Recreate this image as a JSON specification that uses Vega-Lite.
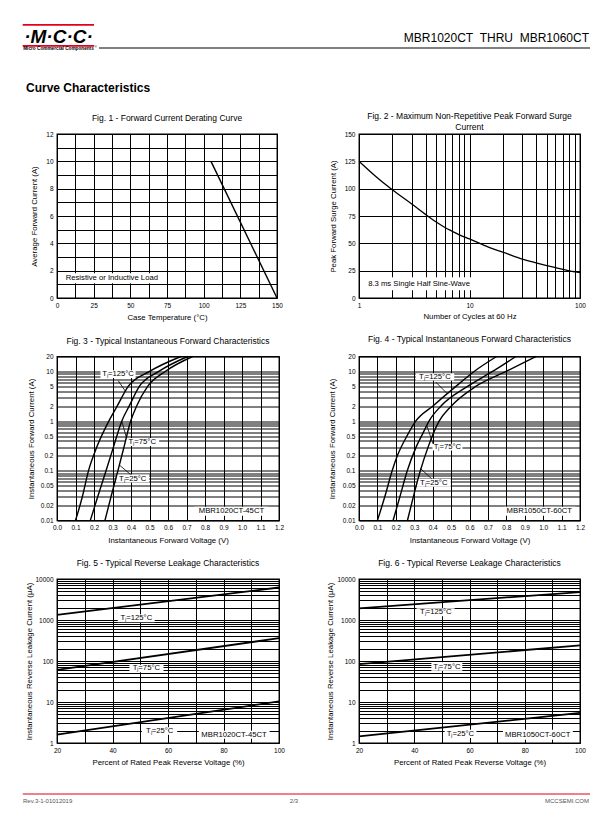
{
"$schema": "https://vega.github.io/schema/vega-lite/v6.json",
"autosize": {"type": "none"},
"padding": {"left": 57, "top": 35.5, "right": 555, "bottom": 789.5},
"background": "white",
"columns": 2,
"spacing": {"row": 58.5, "column": 80},
"bounds": "flush",
"align": "each",
"config": {
  "view": {"stroke": null},
  "font": "Liberation Sans",
  "title": {"font": "Liberation Sans", "fontSize": 8.5, "fontWeight": "normal", "color": "#000", "frame": "group", "anchor": "middle"},
  "axis": {"grid": true, "gridColor": "#000", "gridOpacity": 1, "gridWidth": 1, "domain": false, "ticks": false, "labelFont": "Liberation Sans", "labelFontSize": 6.5, "labelColor": "#000", "labelPadding": 4, "labelOverlap": false, "labelFlush": false, "labelBound": false, "titleFont": "Liberation Sans", "titleFontSize": 7.8, "titleFontWeight": "normal", "titleColor": "#000"},
  "text": {"font": "Liberation Sans", "color": "#000"},
  "line": {"color": "#000"},
  "rule": {"color": "#000"}
},
"concat": [
  {
    "width": 222, "height": 40,
    "layer": [
      {"data": {"values": [{"part": "top bar"}]}, "mark": {"type": "rect", "color": "#e2001a"}, "encoding": {"x": {"value": -34.3}, "x2": {"value": 37}, "y": {"value": -11.5}, "y2": {"value": -9.7}}},
      {"data": {"values": [{"part": "bottom bar"}]}, "mark": {"type": "rect", "color": "#e2001a"}, "encoding": {"x": {"value": -34.3}, "x2": {"value": 37}, "y": {"value": 9.5}, "y2": {"value": 11.3}}},
      {"data": {"values": [{"t": "·M·C·C·"}]}, "mark": {"type": "text", "fontSize": 19, "fontWeight": "bold", "fontStyle": "italic", "align": "center", "baseline": "middle"}, "encoding": {"x": {"value": 1.5}, "y": {"value": 1.5}, "text": {"field": "t"}}},
      {"data": {"values": [{"t": "Micro Commercial Components"}]}, "mark": {"type": "text", "fontSize": 4.7, "fontWeight": "bold", "align": "center", "baseline": "middle"}, "encoding": {"x": {"value": 1.5}, "y": {"value": 13.9}, "text": {"field": "t"}}},
      {"data": {"values": [{"t": "®"}]}, "mark": {"type": "text", "fontSize": 3.5, "align": "center", "baseline": "middle"}, "encoding": {"x": {"value": 38.5}, "y": {"value": 11.8}, "text": {"field": "t"}}},
      {"data": {"values": [{"part": "header line"}]}, "mark": {"type": "rule", "color": "#000", "strokeWidth": 1}, "encoding": {"x": {"value": 42}, "x2": {"value": 533}, "y": {"value": 12.5}}},
      {"data": {"values": [{"t": "MBR1020CT\u00a0 THRU\u00a0 MBR1060CT"}]}, "mark": {"type": "text", "fontSize": 12, "align": "right", "baseline": "alphabetic"}, "encoding": {"x": {"value": 532}, "y": {"value": 6.8}, "text": {"field": "t"}}},
      {"data": {"values": [{"t": "Curve Characteristics"}]}, "mark": {"type": "text", "fontSize": 12, "fontWeight": "bold", "align": "left", "baseline": "alphabetic"}, "encoding": {"x": {"value": -31}, "y": {"value": 56.2}, "text": {"field": "t"}}}
    ]
  },
  {
    "width": 221, "height": 40,
    "data": {"values": [{"t": ""}]},
    "mark": {"type": "text"},
    "encoding": {"text": {"field": "t"}}
  },
  {
    "width": 220, "height": 164,
    "view": {"stroke": "#000", "strokeWidth": 1.3},
    "title": {"text": "Fig. 1 - Forward Current Derating Curve", "offset": 9},
    "encoding": {
      "x": {"field": "x", "type": "quantitative", "scale": {"domain": [0, 150], "nice": false, "zero": false},
            "axis": {"title": "Case Temperature (°C)", "values": [0,12.5,25,37.5,50,62.5,75,87.5,100,112.5,125,137.5,150], "labelExpr": "datum.value % 25 == 0 ? datum.label : ''", "titlePadding": 5}},
      "y": {"field": "y", "type": "quantitative", "scale": {"domain": [0, 12], "nice": false, "zero": false},
            "axis": {"title": "Average Forward Current (A)", "values": [0,1,2,3,4,5,6,7,8,9,10,11,12], "labelExpr": "datum.value % 2 == 0 ? datum.label : ''", "titlePadding": 7}}
    },
    "layer": [
      {"data": {"values": [{"x": 3.4, "x2": 71, "y": 1.08, "y2": 1.81}]}, "mark": {"type": "rect", "color": "#fff"}, "encoding": {"x2": {"field": "x2"}, "y2": {"field": "y2"}}},
      {"data": {"values": [{"x": 105, "y": 10}, {"x": 150, "y": 0}]}, "mark": {"type": "line", "color": "#000", "strokeWidth": 1.4}, "encoding": {}},
      {"data": {"values": [{"x": 5.9, "y": 1.45, "t": "Resistive or Inductive Load"}]}, "mark": {"type": "text", "align": "left", "baseline": "middle", "fontSize": 7.7}, "encoding": {"text": {"field": "t"}}}
    ]
  },
  {
    "width": 221, "height": 164,
    "view": {"stroke": "#000", "strokeWidth": 1.3},
    "title": {"text": ["Fig. 2 - Maximum Non-Repetitive Peak Forward Surge", "Current"], "lineHeight": 11, "offset": 0},
    "encoding": {
      "x": {"field": "x", "type": "quantitative", "scale": {"type": "log", "domain": [1, 100], "nice": false},
            "axis": {"title": "Number of Cycles at 60 Hz", "values": [1,2,3,4,5,6,7,8,9,10,20,30,40,50,60,70,80,90,100], "labelExpr": "indexof([1,10,100], datum.value) >= 0 ? format(datum.value, '~g') : ''", "titlePadding": 4}},
      "y": {"field": "y", "type": "quantitative", "scale": {"domain": [0, 150], "nice": false, "zero": false},
            "axis": {"title": "Peak Forward Surge Current (A)", "values": [0,25,50,75,100,125,150], "titlePadding": 6.5}}
    },
    "layer": [
      {"data": {"values": [{"x": 1.12, "x2": 11.5, "y": 7, "y2": 19}]}, "mark": {"type": "rect", "color": "#fff"}, "encoding": {"x2": {"field": "x2"}, "y2": {"field": "y2"}}},
      {"data": {"values": [
        {"x": 1, "y": 125}, {"x": 1.5, "y": 109}, {"x": 2, "y": 99}, {"x": 3, "y": 86}, {"x": 4, "y": 76.5},
        {"x": 5, "y": 69.5}, {"x": 6, "y": 64.5}, {"x": 7, "y": 61}, {"x": 8, "y": 58}, {"x": 10, "y": 54},
        {"x": 15, "y": 46.3}, {"x": 20, "y": 42}, {"x": 30, "y": 35.6}, {"x": 40, "y": 32.2}, {"x": 50, "y": 29.7},
        {"x": 60, "y": 27.8}, {"x": 70, "y": 26.2}, {"x": 80, "y": 24.9}, {"x": 90, "y": 24}, {"x": 100, "y": 23.3}
      ]}, "mark": {"type": "line", "color": "#000", "strokeWidth": 1.3, "interpolate": "monotone"}, "encoding": {}},
      {"data": {"values": [{"x": 1.21, "y": 13, "t": "8.3 ms Single Half Sine-Wave"}]}, "mark": {"type": "text", "align": "left", "baseline": "middle", "fontSize": 7.7}, "encoding": {"text": {"field": "t"}}}
    ]
  },
  {
    "width": 222, "height": 164,
    "view": {"stroke": "#000", "strokeWidth": 1.3},
    "title": {"text": "Fig. 3 - Typical Instantaneous Forward Characteristics", "offset": 8.5},
    "encoding": {
      "x": {"field": "x", "type": "quantitative", "scale": {"domain": [0, 1.2], "nice": false, "zero": false},
            "axis": {"title": "Instantaneous Forward Voltage (V)", "values": [0,0.1,0.2,0.3,0.4,0.5,0.6,0.7,0.8,0.9,1,1.1,1.2], "format": ".1f", "titlePadding": 5}},
      "y": {"field": "y", "type": "quantitative", "scale": {"type": "log", "domain": [0.01, 20], "nice": false},
            "axis": {"title": "Instantaneous Forward Current (A)", "values": [0.01,0.02,0.03,0.04,0.05,0.06,0.07,0.08,0.09,0.1,0.2,0.3,0.4,0.5,0.6,0.7,0.8,0.9,1,2,3,4,5,6,7,8,9,10,20], "labelExpr": "indexof([0.01,0.02,0.05,0.1,0.2,0.5,1,2,5,10,20], datum.value) >= 0 ? format(datum.value, '~g') : ''", "titlePadding": 5}}
    },
    "layer": [
      {"data": {"values": [
        {"x": 0.235, "x2": 0.425, "y": 7.35, "y2": 10.6},
        {"x": 0.371, "x2": 0.552, "y": 0.316, "y2": 0.458},
        {"x": 0.32, "x2": 0.498, "y": 0.058, "y2": 0.084},
        {"x": 0.742, "x2": 1.14, "y": 0.0125, "y2": 0.019}
      ]}, "mark": {"type": "rect", "color": "#fff"}, "encoding": {"x2": {"field": "x2"}, "y2": {"field": "y2"}}},
      {"data": {"values": [
        {"x": 0.331, "y": 6.5, "x2": 0.37, "y2": 4.0},
        {"x": 0.376, "y": 0.458, "x2": 0.35, "y2": 1.0},
        {"x": 0.337, "y": 0.131, "x2": 0.398, "y2": 0.084}
      ]}, "mark": {"type": "rule", "color": "#000", "strokeWidth": 0.8}, "encoding": {"x2": {"field": "x2"}, "y2": {"field": "y2"}}},
      {"data": {"values": [
        {"s": "125", "x": 0.10, "y": 0.01}, {"s": "125", "x": 0.137, "y": 0.03}, {"s": "125", "x": 0.17, "y": 0.1}, {"s": "125", "x": 0.215, "y": 0.3}, {"s": "125", "x": 0.28, "y": 1}, {"s": "125", "x": 0.325, "y": 2}, {"s": "125", "x": 0.385, "y": 5}, {"s": "125", "x": 0.50, "y": 10}, {"s": "125", "x": 0.67, "y": 20},
        {"s": "75", "x": 0.18, "y": 0.01}, {"s": "75", "x": 0.22, "y": 0.03}, {"s": "75", "x": 0.265, "y": 0.1}, {"s": "75", "x": 0.305, "y": 0.3}, {"s": "75", "x": 0.35, "y": 1}, {"s": "75", "x": 0.39, "y": 2}, {"s": "75", "x": 0.445, "y": 5}, {"s": "75", "x": 0.55, "y": 10}, {"s": "75", "x": 0.706, "y": 20},
        {"s": "25", "x": 0.259, "y": 0.01}, {"s": "25", "x": 0.292, "y": 0.03}, {"s": "25", "x": 0.329, "y": 0.1}, {"s": "25", "x": 0.362, "y": 0.3}, {"s": "25", "x": 0.398, "y": 1}, {"s": "25", "x": 0.43, "y": 2}, {"s": "25", "x": 0.49, "y": 5}, {"s": "25", "x": 0.585, "y": 10}, {"s": "25", "x": 0.733, "y": 20}
      ]}, "mark": {"type": "line", "color": "#000", "strokeWidth": 1.4, "interpolate": "monotone"}, "encoding": {"detail": {"field": "s"}}},
      {"data": {"values": [
        {"x": 0.33, "y": 8.8, "t": "Tⱼ=125°C"},
        {"x": 0.461, "y": 0.38, "t": "Tⱼ=75°C"},
        {"x": 0.409, "y": 0.07, "t": "Tⱼ=25°C"},
        {"x": 0.943, "y": 0.0155, "t": "MBR1020CT-45CT"}
      ]}, "mark": {"type": "text", "align": "center", "baseline": "middle", "fontSize": 7.7}, "encoding": {"text": {"field": "t"}}}
    ]
  },
  {
    "width": 221, "height": 164,
    "view": {"stroke": "#000", "strokeWidth": 1.3},
    "title": {"text": "Fig. 4 - Typical Instantaneous Forward Characteristics", "offset": 10},
    "encoding": {
      "x": {"field": "x", "type": "quantitative", "scale": {"domain": [0, 1.2], "nice": false, "zero": false},
            "axis": {"title": "Instantaneous Forward Voltage (V)", "values": [0,0.1,0.2,0.3,0.4,0.5,0.6,0.7,0.8,0.9,1,1.1,1.2], "format": ".1f", "titlePadding": 5}},
      "y": {"field": "y", "type": "quantitative", "scale": {"type": "log", "domain": [0.01, 20], "nice": false},
            "axis": {"title": "Instantaneous Forward Current (A)", "values": [0.01,0.02,0.03,0.04,0.05,0.06,0.07,0.08,0.09,0.1,0.2,0.3,0.4,0.5,0.6,0.7,0.8,0.9,1,2,3,4,5,6,7,8,9,10,20], "labelExpr": "indexof([0.01,0.02,0.05,0.1,0.2,0.5,1,2,5,10,20], datum.value) >= 0 ? format(datum.value, '~g') : ''", "titlePadding": 6}}
    },
    "layer": [
      {"data": {"values": [
        {"x": 0.308, "x2": 0.517, "y": 6.57, "y2": 9.25},
        {"x": 0.399, "x2": 0.562, "y": 0.256, "y2": 0.349},
        {"x": 0.314, "x2": 0.498, "y": 0.048, "y2": 0.069},
        {"x": 0.785, "x2": 1.175, "y": 0.0125, "y2": 0.019}
      ]}, "mark": {"type": "rect", "color": "#fff"}, "encoding": {"x2": {"field": "x2"}, "y2": {"field": "y2"}}},
      {"data": {"values": [
        {"x": 0.417, "y": 6.1, "x2": 0.48, "y2": 3.55},
        {"x": 0.402, "y": 0.349, "x2": 0.368, "y2": 0.82},
        {"x": 0.335, "y": 0.11, "x2": 0.395, "y2": 0.069}
      ]}, "mark": {"type": "rule", "color": "#000", "strokeWidth": 0.8}, "encoding": {"x2": {"field": "x2"}, "y2": {"field": "y2"}}},
      {"data": {"values": [
        {"s": "125", "x": 0.10, "y": 0.01}, {"s": "125", "x": 0.14, "y": 0.03}, {"s": "125", "x": 0.18, "y": 0.1}, {"s": "125", "x": 0.208, "y": 0.2}, {"s": "125", "x": 0.26, "y": 0.5}, {"s": "125", "x": 0.308, "y": 1}, {"s": "125", "x": 0.40, "y": 2}, {"s": "125", "x": 0.526, "y": 5}, {"s": "125", "x": 0.625, "y": 10}, {"s": "125", "x": 0.747, "y": 20},
        {"s": "75", "x": 0.185, "y": 0.01}, {"s": "75", "x": 0.222, "y": 0.03}, {"s": "75", "x": 0.262, "y": 0.1}, {"s": "75", "x": 0.31, "y": 0.3}, {"s": "75", "x": 0.35, "y": 0.6}, {"s": "75", "x": 0.38, "y": 1}, {"s": "75", "x": 0.444, "y": 2}, {"s": "75", "x": 0.589, "y": 5}, {"s": "75", "x": 0.725, "y": 10}, {"s": "75", "x": 0.852, "y": 20},
        {"s": "25", "x": 0.263, "y": 0.01}, {"s": "25", "x": 0.295, "y": 0.03}, {"s": "25", "x": 0.333, "y": 0.1}, {"s": "25", "x": 0.375, "y": 0.3}, {"s": "25", "x": 0.435, "y": 1}, {"s": "25", "x": 0.50, "y": 2}, {"s": "25", "x": 0.634, "y": 5}, {"s": "25", "x": 0.798, "y": 10}, {"s": "25", "x": 0.961, "y": 20}
      ]}, "mark": {"type": "line", "color": "#000", "strokeWidth": 1.4, "interpolate": "monotone"}, "encoding": {"detail": {"field": "s"}}},
      {"data": {"values": [
        {"x": 0.412, "y": 7.8, "t": "Tⱼ=125°C"},
        {"x": 0.48, "y": 0.3, "t": "Tⱼ=75°C"},
        {"x": 0.406, "y": 0.058, "t": "Tⱼ=25°C"},
        {"x": 0.979, "y": 0.0152, "t": "MBR1050CT-60CT"}
      ]}, "mark": {"type": "text", "align": "center", "baseline": "middle", "fontSize": 7.7}, "encoding": {"text": {"field": "t"}}}
    ]
  },
  {
    "width": 222, "height": 164,
    "view": {"stroke": "#000", "strokeWidth": 1.3},
    "title": {"text": "Fig. 5 - Typical Reverse Leakage Characteristics", "offset": 9},
    "encoding": {
      "x": {"field": "x", "type": "quantitative", "scale": {"domain": [20, 100], "nice": false, "zero": false},
            "axis": {"title": "Percent of Rated Peak Reverse Voltage (%)", "values": [20,30,40,50,60,70,80,90,100], "labelExpr": "datum.value % 20 == 0 ? datum.label : ''", "titlePadding": 5}},
      "y": {"field": "y", "type": "quantitative", "scale": {"type": "log", "domain": [1, 10000], "nice": false},
            "axis": {"title": "Instantaneous Reverse Leakage Current (µA)", "values": [1,2,3,4,5,6,7,8,9,10,20,30,40,50,60,70,80,90,100,200,300,400,500,600,700,800,900,1000,2000,3000,4000,5000,6000,7000,8000,9000,10000], "labelExpr": "indexof([1,10,100,1000,10000], datum.value) >= 0 ? format(datum.value, 'd') : ''", "titlePadding": 1}}
    },
    "layer": [
      {"data": {"values": [
        {"x": 41.9, "x2": 55.2, "y": 881, "y2": 1380},
        {"x": 46.1, "x2": 58.4, "y": 53.5, "y2": 80.7},
        {"x": 50.6, "x2": 63.3, "y": 1.6, "y2": 2.41},
        {"x": 71.1, "x2": 96.6, "y": 1.27, "y2": 2.0}
      ]}, "mark": {"type": "rect", "color": "#fff"}, "encoding": {"x2": {"field": "x2"}, "y2": {"field": "y2"}}},
      {"data": {"values": [
        {"s": "125", "x": 20, "y": 1330}, {"s": "125", "x": 100, "y": 6200},
        {"s": "75", "x": 20, "y": 61}, {"s": "75", "x": 100, "y": 360},
        {"s": "25", "x": 20, "y": 1.6}, {"s": "25", "x": 100, "y": 10.3}
      ]}, "mark": {"type": "line", "color": "#000", "strokeWidth": 1.8}, "encoding": {"detail": {"field": "s"}}},
      {"data": {"values": [
        {"x": 48.6, "y": 1104, "t": "Tⱼ=125°C"},
        {"x": 52.2, "y": 65.7, "t": "Tⱼ=75°C"},
        {"x": 57, "y": 1.96, "t": "Tⱼ=25°C"},
        {"x": 83.8, "y": 1.6, "t": "MBR1020CT-45CT"}
      ]}, "mark": {"type": "text", "align": "center", "baseline": "middle", "fontSize": 7.7}, "encoding": {"text": {"field": "t"}}}
    ]
  },
  {
    "width": 221, "height": 164,
    "view": {"stroke": "#000", "strokeWidth": 1.3},
    "title": {"text": "Fig. 6 - Typical Reverse Leakage Characteristics", "offset": 9},
    "encoding": {
      "x": {"field": "x", "type": "quantitative", "scale": {"domain": [20, 100], "nice": false, "zero": false},
            "axis": {"title": "Percent of Rated Peak Reverse Voltage (%)", "values": [20,30,40,50,60,70,80,90,100], "labelExpr": "datum.value % 20 == 0 ? datum.label : ''", "titlePadding": 5}},
      "y": {"field": "y", "type": "quantitative", "scale": {"type": "log", "domain": [1, 10000], "nice": false},
            "axis": {"title": "Instantaneous Reverse Leakage Current (µA)", "values": [1,2,3,4,5,6,7,8,9,10,20,30,40,50,60,70,80,90,100,200,300,400,500,600,700,800,900,1000,2000,3000,4000,5000,6000,7000,8000,9000,10000], "labelExpr": "indexof([1,10,100,1000,10000], datum.value) >= 0 ? format(datum.value, 'd') : ''", "titlePadding": 2}}
    },
    "layer": [
      {"data": {"values": [
        {"x": 40.8, "x2": 54.6, "y": 1233, "y2": 1932},
        {"x": 46.2, "x2": 57.4, "y": 57.6, "y2": 93.7},
        {"x": 51, "x2": 62.5, "y": 1.32, "y2": 2.11},
        {"x": 72.1, "x2": 97.4, "y": 1.2, "y2": 2.1}
      ]}, "mark": {"type": "rect", "color": "#fff"}, "encoding": {"x2": {"field": "x2"}, "y2": {"field": "y2"}}},
      {"data": {"values": [
        {"s": "125", "x": 20, "y": 1930}, {"s": "125", "x": 100, "y": 4800},
        {"s": "75", "x": 20, "y": 84}, {"s": "75", "x": 100, "y": 240},
        {"s": "25", "x": 20, "y": 1.45}, {"s": "25", "x": 100, "y": 5.4}
      ]}, "mark": {"type": "line", "color": "#000", "strokeWidth": 1.8}, "encoding": {"detail": {"field": "s"}}},
      {"data": {"values": [
        {"x": 47.8, "y": 1545, "t": "Tⱼ=125°C"},
        {"x": 51.8, "y": 73, "t": "Tⱼ=75°C"},
        {"x": 56.7, "y": 1.66, "t": "Tⱼ=25°C"},
        {"x": 84.7, "y": 1.6, "t": "MBR1050CT-60CT"}
      ]}, "mark": {"type": "text", "align": "center", "baseline": "middle", "fontSize": 7.7}, "encoding": {"text": {"field": "t"}}}
    ]
  },
  {
    "width": 222, "height": 10,
    "layer": [
      {"data": {"values": [{"part": "footer line"}]}, "mark": {"type": "rule", "color": "#e2001a", "strokeWidth": 1.2}, "encoding": {"x": {"value": -34.3}, "x2": {"value": 533}, "y": {"value": -7.5}}},
      {"data": {"values": [{"t": "Rev.3-1-01012019"}]}, "mark": {"type": "text", "fontSize": 6, "align": "left", "baseline": "middle", "color": "#555"}, "encoding": {"x": {"value": -34}, "y": {"value": -0.2}, "text": {"field": "t"}}},
      {"data": {"values": [{"t": "2/3"}]}, "mark": {"type": "text", "fontSize": 6, "align": "center", "baseline": "middle", "color": "#555"}, "encoding": {"x": {"value": 237}, "y": {"value": -0.2}, "text": {"field": "t"}}},
      {"data": {"values": [{"t": "MCCSEMI.COM"}]}, "mark": {"type": "text", "fontSize": 6, "align": "right", "baseline": "middle", "color": "#555"}, "encoding": {"x": {"value": 532}, "y": {"value": -0.2}, "text": {"field": "t"}}}
    ]
  },
  {
    "width": 221, "height": 10,
    "data": {"values": [{"t": ""}]},
    "mark": {"type": "text"},
    "encoding": {"text": {"field": "t"}}
  }
]
}
